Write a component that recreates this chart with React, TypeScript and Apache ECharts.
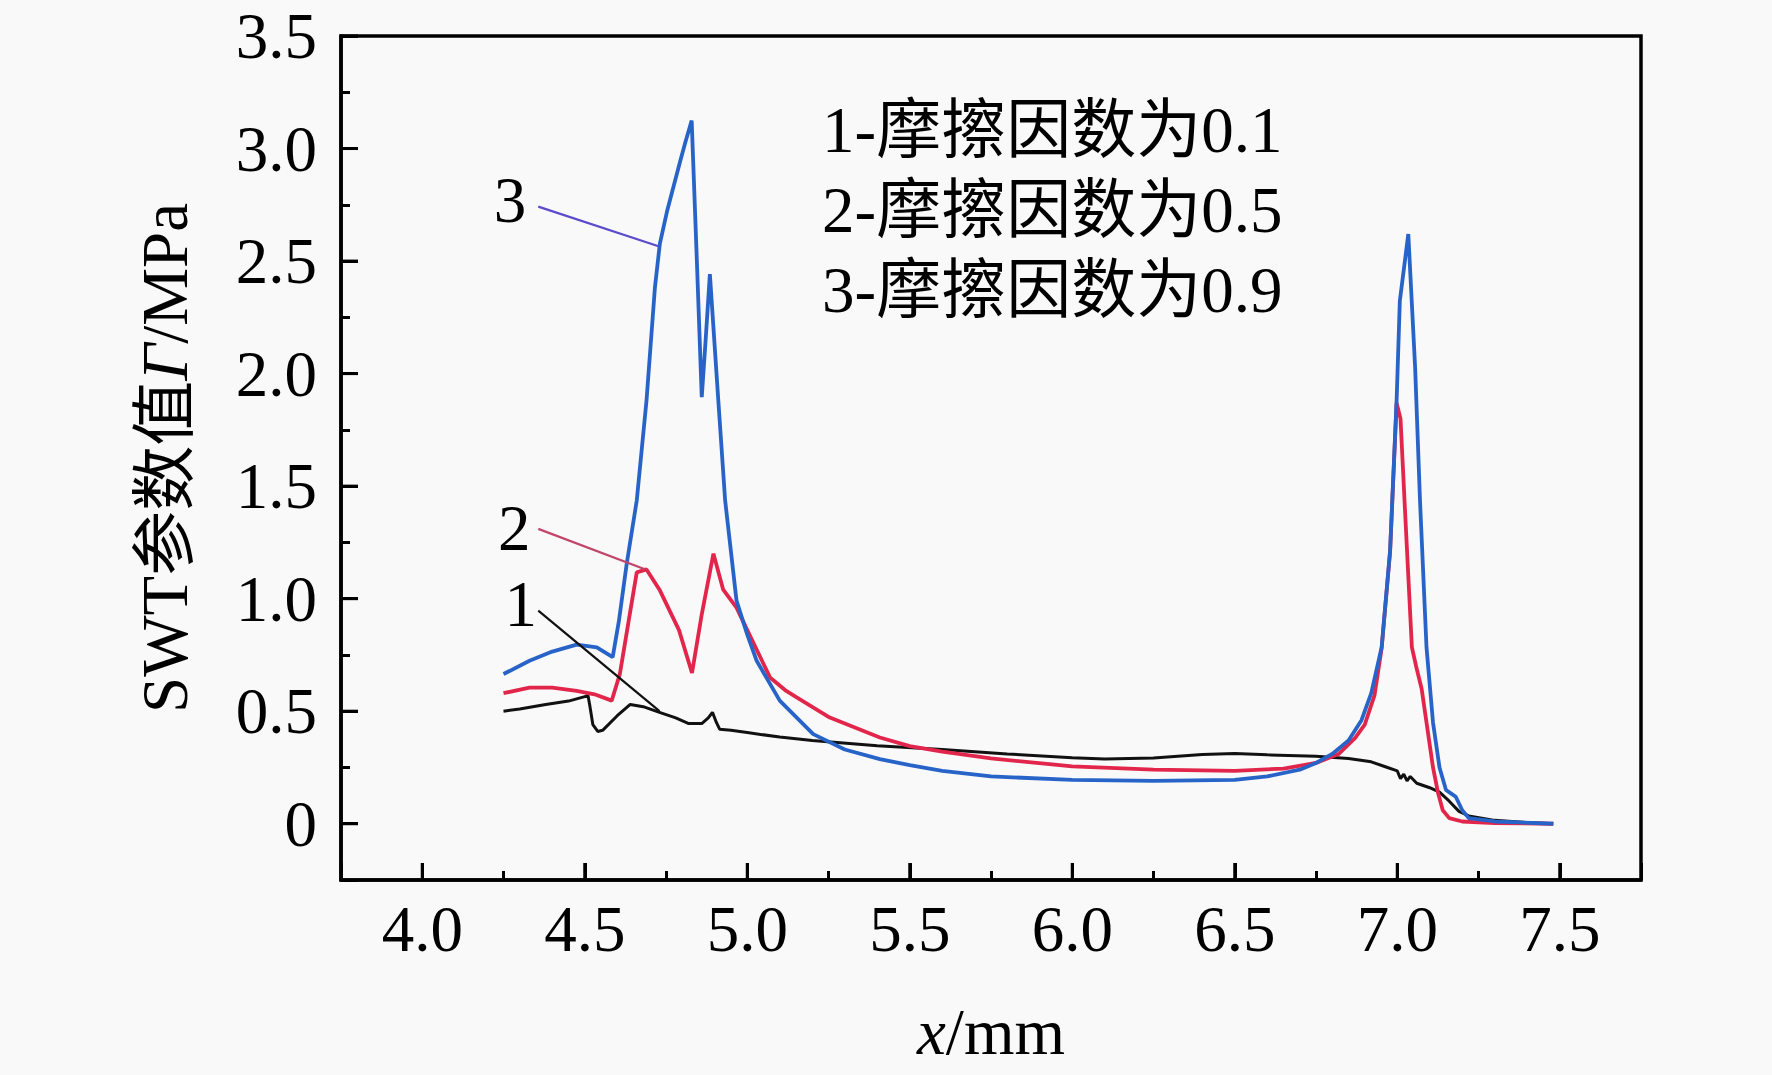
import React, { useEffect, useRef } from "react";
import * as echarts from "echarts";

// ---- data ----
const curve1X = [4.25, 4.3, 4.38, 4.45, 4.5, 4.51, 4.515, 4.525, 4.54, 4.555, 4.6, 4.64, 4.68, 4.73, 4.78, 4.82, 4.86, 4.88, 4.893, 4.905, 4.915, 4.95, 5.0, 5.1, 5.2, 5.4, 5.6, 5.8, 6.0, 6.1, 6.25, 6.4, 6.5, 6.6, 6.75, 6.85, 6.92, 6.97, 7.0, 7.01, 7.02, 7.03, 7.04, 7.06, 7.1, 7.13, 7.16, 7.19, 7.22, 7.3, 7.4, 7.48];
const curve1Y = [0.5, 0.51, 0.53, 0.545, 0.565, 0.57, 0.53, 0.44, 0.41, 0.415, 0.48, 0.53, 0.52, 0.495, 0.47, 0.445, 0.445, 0.47, 0.495, 0.45, 0.42, 0.415, 0.405, 0.385, 0.37, 0.347, 0.33, 0.31, 0.293, 0.288, 0.292, 0.308, 0.312, 0.306, 0.3, 0.29, 0.275, 0.25, 0.235, 0.2, 0.22, 0.19, 0.21, 0.18, 0.16, 0.14, 0.1, 0.055, 0.035, 0.015, 0.005, 0.0];

const curve2X = [4.25, 4.33, 4.4, 4.475, 4.53, 4.583, 4.608, 4.635, 4.66, 4.69, 4.73, 4.79, 4.83, 4.86, 4.896, 4.926, 4.967, 5.02, 5.07, 5.12, 5.152, 5.254, 5.408, 5.5, 5.6, 5.75, 6.0, 6.25, 6.5, 6.65, 6.75, 6.82, 6.87, 6.9, 6.93, 6.952, 6.978, 6.998, 7.01, 7.025, 7.045, 7.058, 7.075, 7.09, 7.11, 7.125, 7.14, 7.16, 7.2, 7.3, 7.48];
const curve2Y = [0.58, 0.605, 0.605, 0.59, 0.575, 0.547, 0.665, 0.9, 1.117, 1.13, 1.04, 0.86, 0.67, 0.93, 1.2, 1.04, 0.96, 0.8, 0.65, 0.59, 0.561, 0.472, 0.383, 0.345, 0.32, 0.29, 0.255, 0.24, 0.235, 0.245, 0.27, 0.31, 0.38, 0.44, 0.57, 0.78, 1.21, 1.87, 1.8, 1.36, 0.784, 0.7, 0.6, 0.45, 0.25, 0.14, 0.06, 0.025, 0.01, 0.003, 0.0];

const curve3X = [4.25, 4.33, 4.4, 4.475, 4.537, 4.586, 4.605, 4.629, 4.66, 4.69, 4.716, 4.731, 4.753, 4.773, 4.793, 4.81, 4.829, 4.845, 4.86, 4.872, 4.885, 4.911, 4.932, 4.967, 5.0, 5.029, 5.1, 5.203, 5.3, 5.408, 5.5, 5.6, 5.75, 6.0, 6.25, 6.5, 6.6, 6.7, 6.75, 6.8, 6.85, 6.89, 6.92, 6.952, 6.978, 6.998, 7.008, 7.034, 7.055, 7.07, 7.09, 7.11, 7.13, 7.15, 7.165, 7.18, 7.2, 7.22, 7.3, 7.48];
const curve3Y = [0.665, 0.724, 0.765, 0.796, 0.784, 0.74, 0.9, 1.154, 1.436, 1.88, 2.384, 2.576, 2.72, 2.83, 2.94, 3.03, 3.124, 2.5, 1.895, 2.15, 2.442, 1.88, 1.436, 0.991, 0.84, 0.724, 0.547, 0.398, 0.33, 0.287, 0.26, 0.235, 0.21, 0.195, 0.19, 0.195, 0.21, 0.24, 0.27, 0.31, 0.37, 0.46, 0.58, 0.784, 1.213, 1.88, 2.324, 2.62, 2.027, 1.436, 0.784, 0.45, 0.25, 0.15, 0.135, 0.12, 0.06, 0.025, 0.01, 0.0];

// major tick values
const xMajorTicks = [4.0, 4.5, 5.0, 5.5, 6.0, 6.5, 7.0, 7.5];
const yMajorTicks = [0, 0.5, 1.0, 1.5, 2.0, 2.5, 3.0, 3.5];

const legendLines = ["1-摩擦因数为0.1", "2-摩擦因数为0.5", "3-摩擦因数为0.9"];
const calloutText = ["1", "2", "3"];
const calloutLabelAt: [number, number][] = [[4.303, 0.975], [4.283, 1.315], [4.27, 2.77]];
const calloutFrom: [number, number][] = [[4.357, 0.947], [4.357, 1.31], [4.357, 2.742]];
const calloutTo: [number, number][] = [[4.73, 0.5], [4.685, 1.131], [4.727, 2.566]];

const X_MIN = 3.75, X_MAX = 7.75, Y_MIN = -0.25, Y_MAX = 3.5;

const FONT = '"Liberation Serif", "Times New Roman", "Noto Sans CJK SC", serif';
const FS = 65;
const MAJOR_LEN = 17;

const zip = (xs: number[], ys: number[]) => xs.map((x, i) => [x, ys[i]]);
const isHalf = (v: number) => Math.abs(v * 2 - Math.round(v * 2)) < 1e-6;

const seriesColors = ["#111111", "#e2264b", "#2864c8"];
const calloutColors = ["#111111", "#c2466a", "#5a4ccb"];

function makeAxis(min: number, max: number, splitNumber: number) {
  return {
    type: "value",
    min,
    max,
    splitNumber,
    axisLine: { show: true, onZero: false, lineStyle: { color: "#000000", width: 3.5 } },
    axisTick: { show: true, inside: true, length: MAJOR_LEN, lineStyle: { color: "#000000", width: 3 } },
    minorTick: { show: true, splitNumber: 2, length: 9, lineStyle: { color: "#000000", width: 3 } },
    splitLine: { show: false },
    minorSplitLine: { show: false },
    nameLocation: "middle",
  };
}

export default function App() {
  const ref = useRef<HTMLDivElement>(null);

  useEffect(() => {
    if (!ref.current) return;
    const chart = echarts.init(ref.current, undefined, { renderer: "svg" });

    const curves = [zip(curve1X, curve1Y), zip(curve2X, curve2Y), zip(curve3X, curve3Y)];

    const series: any[] = curves.map((data, i) => ({
      type: "line",
      name: legendLines[i],
      data,
      showSymbol: false,
      symbol: "none",
      smooth: false,
      z: 2 + i,
      lineStyle: { color: seriesColors[i], width: i === 0 ? 3 : 3.8 },
      markLine: {
        silent: true,
        animation: false,
        symbol: ["none", "none"],
        label: { show: false },
        lineStyle: { color: calloutColors[i], width: 2.2, type: "solid" },
        data: [[{ coord: calloutFrom[i] }, { coord: calloutTo[i] }]],
      },
      markPoint: {
        silent: true,
        animation: false,
        symbol: "circle",
        symbolSize: 1,
        itemStyle: { color: "rgba(0,0,0,0)" },
        label: {
          show: true,
          position: "inside",
          formatter: calloutText[i],
          fontSize: FS,
          fontFamily: FONT,
          color: "#000",
        },
        data: [{ coord: calloutLabelAt[i] }],
      },
    }));

    // inward major ticks drawn on top of everything, placed through the axis scales
    series.push({
      type: "custom",
      coordinateSystem: "cartesian2d",
      silent: true,
      clip: false,
      zlevel: 1,
      z: 100,
      data: xMajorTicks.map((v) => [v, Y_MIN]),
      renderItem: (_p: any, api: any) => {
        const pt = api.coord([api.value(0), api.value(1)]);
        return {
          type: "rect",
          shape: { x: pt[0] - 1.5, y: pt[1] - MAJOR_LEN, width: 3, height: MAJOR_LEN },
          style: { fill: "#000" },
        };
      },
    });
    series.push({
      type: "custom",
      coordinateSystem: "cartesian2d",
      silent: true,
      clip: false,
      zlevel: 1,
      z: 100,
      data: yMajorTicks.map((v) => [X_MIN, v]),
      renderItem: (_p: any, api: any) => {
        const pt = api.coord([api.value(0), api.value(1)]);
        return {
          type: "rect",
          shape: { x: pt[0], y: pt[1] - 1.5, width: MAJOR_LEN, height: 3 },
          style: { fill: "#000" },
        };
      },
    });

    chart.setOption({
      animation: false,
      backgroundColor: "#f9f9f9",
      grid: {
        left: 341,
        right: 131,
        top: 36,
        bottom: 195,
        containLabel: false,
        show: true,
        borderColor: "#000000",
        borderWidth: 3.5,
        backgroundColor: "transparent",
      },
      xAxis: {
        ...makeAxis(X_MIN, X_MAX, 8),
        axisLabel: {
          margin: 16,
          fontSize: FS,
          fontFamily: FONT,
          color: "#000",
          formatter: (v: number) => (isHalf(v) ? v.toFixed(1) : ""),
        },
        name: "{i|x}/mm",
        nameGap: 119,
        nameTextStyle: {
          fontSize: FS,
          fontFamily: FONT,
          color: "#000",
          rich: { i: { fontStyle: "italic", fontSize: FS, fontFamily: FONT, color: "#000" } },
        },
      },
      yAxis: {
        ...makeAxis(Y_MIN, Y_MAX, 7),
        axisLabel: {
          margin: 24,
          fontSize: FS,
          fontFamily: FONT,
          color: "#000",
          formatter: (v: number) => (Math.abs(v) < 1e-9 ? "0" : isHalf(v) && v > 0 ? v.toFixed(1) : ""),
        },
        name: "SWT参数值{i|Γ}/MPa",
        nameGap: 144,
        nameTextStyle: {
          fontSize: FS,
          fontFamily: FONT,
          color: "#000",
          rich: { i: { fontStyle: "italic", fontSize: FS, fontFamily: FONT, color: "#000" } },
        },
      },
      graphic: legendLines.map((t, i) => ({
        type: "text",
        x: 822,
        y: 130 + i * 80,
        silent: true,
        style: {
          text: t,
          fontSize: FS,
          fontFamily: FONT,
          fill: "#000",
          verticalAlign: "middle",
          align: "left",
        },
      })),
      series,
    });

    return () => chart.dispose();
  }, []);

  return (
    <div
      ref={ref}
      style={{ position: "absolute", left: 0, top: 0, width: 1772, height: 1075 }}
    />
  );
}
